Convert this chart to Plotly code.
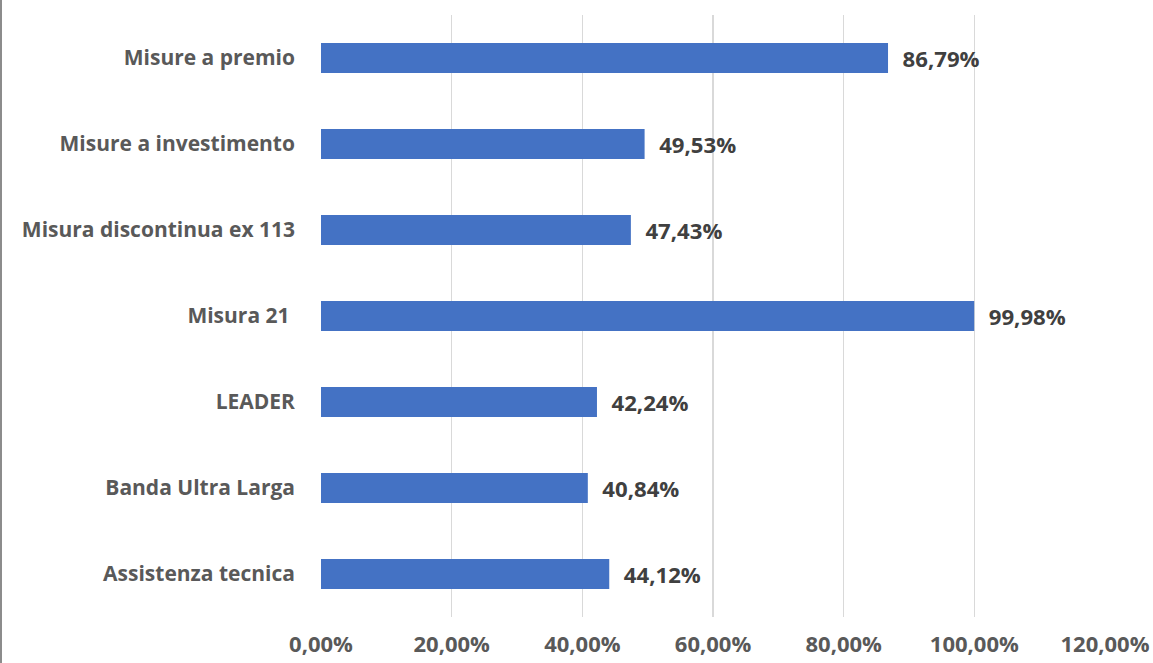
import plotly.graph_objects as go

categories = ["Misure a premio", "Misure a investimento", "Misura discontinua ex 113",
              "Misura 21 ", "LEADER", "Banda Ultra Larga", "Assistenza tecnica"]
values = [86.79, 49.53, 47.43, 99.98, 42.24, 40.84, 44.12]
tick_vals = [0, 20, 40, 60, 80, 100, 120]
tick_text = ["0,00%", "20,00%", "40,00%", "60,00%", "80,00%", "100,00%", "120,00%"]

labels = [f"{v:.2f}".replace(".", ",") + "%" for v in values]

FONT = "Open Sans"

fig = go.Figure(go.Bar(
    y=categories, x=values, orientation="h",
    marker=dict(color="#4472C4", line=dict(width=0)),
    text=labels, texttemplate="  %{text}", textposition="outside",
    textfont=dict(family=FONT, size=28, color="#404040", weight="bold"),
    cliponaxis=False, hoverinfo="skip",
))

fig.update_layout(
    width=1153, height=663,
    margin=dict(l=321, r=48, t=15, b=46),
    paper_bgcolor="white", plot_bgcolor="white",
    bargap=0.65, showlegend=False,
    font=dict(family=FONT),
    xaxis=dict(range=[0, 120], tickvals=tick_vals, ticktext=tick_text,
               showgrid=True, gridcolor="#D9D9D9", gridwidth=1.5,
               zeroline=False, showline=False, ticks="",
               tickfont=dict(family=FONT, size=22, color="#595959", weight="bold"),
               ticklabelstandoff=12, ticklabeloverflow="allow",
               automargin=False, fixedrange=True),
    yaxis=dict(categoryorder="array", categoryarray=categories[::-1],
               showgrid=False, zeroline=False, showline=False, ticks="",
               tickfont=dict(family=FONT, size=21, color="#595959", weight="bold"),
               ticklabelstandoff=25, automargin=False, fixedrange=True),
    shapes=[dict(type="line", xref="paper", yref="paper",
                 x0=-320/784, x1=-320/784, y0=-46/602, y1=1 + 15/602,
                 line=dict(color="#8C8C8C", width=2))],
)

fig.write_html("out.html", config={"displayModeBar": False, "staticPlot": True},
               post_script="document.body.style.margin='0';document.body.style.overflow='hidden';")
